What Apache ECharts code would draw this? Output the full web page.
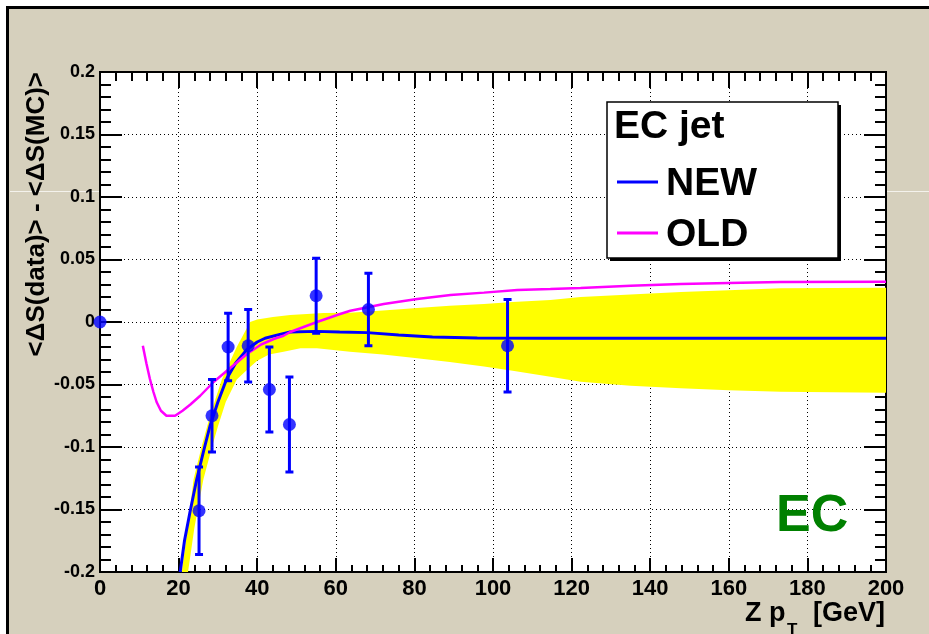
<!DOCTYPE html>
<html>
<head>
<meta charset="utf-8">
<script src="https://cdn.jsdelivr.net/npm/echarts@6/dist/echarts.min.js"></script>
<style>html,body{margin:0;padding:0;background:#fff;}#c{width:929px;height:634px;}</style>
</head>
<body>
<div id="c"></div>
<script>
// ---- data ----
const xTicks = [0, 20, 40, 60, 80, 100, 120, 140, 160, 180, 200];
const yTicks = [-0.2, -0.15, -0.1, -0.05, 0, 0.05, 0.1, 0.15, 0.2];

// measured points (Z pT, <dS data> - <dS MC>, error)
const ptX   = [0, 25.2, 28.5, 32.6, 37.7, 43.1, 48.2, 55.0, 68.3, 103.7];
const ptY   = [0, -0.151, -0.075, -0.020, -0.019, -0.054, -0.082, 0.021, 0.010, -0.019];
const ptErr = [0, 0.035, 0.029, 0.027, 0.029, 0.034, 0.038, 0.030, 0.029, 0.037];

// NEW parametrisation
const newX = [20.4, 21.5, 22.9, 24.6, 26.3, 28, 30, 32.3, 34.5, 37.4, 40, 42, 45, 48.4, 55, 61, 68, 76, 84.6, 96, 113, 200];
const newY = [-0.2, -0.175, -0.152, -0.126, -0.104, -0.083, -0.064, -0.045, -0.033, -0.022, -0.016, -0.013, -0.0105, -0.008, -0.0075, -0.008, -0.0085, -0.0104, -0.012, -0.0128, -0.013, -0.013];

// OLD parametrisation
const oldX = [10.9, 11.8, 12.7, 13.6, 14.4, 15.5, 16.9, 19.1, 21, 23, 25.5, 28.9, 32.3, 37.4, 41, 44.2, 46.7, 48.4, 55.2, 61.1, 63.7, 72.2, 80.7, 89.2, 97.7, 106.2, 114.6, 122.3, 135, 147.8, 160, 173.2, 200];
const oldY = [-0.019, -0.033, -0.0456, -0.056, -0.064, -0.071, -0.075, -0.075, -0.071, -0.066, -0.059, -0.048, -0.039, -0.0256, -0.018, -0.0136, -0.011, -0.008, 0.0, 0.0064, 0.009, 0.0144, 0.0184, 0.0216, 0.0235, 0.0256, 0.0264, 0.0272, 0.029, 0.0304, 0.0312, 0.032, 0.0322];

// uncertainty band of NEW (upper and lower edges)
const bandUpX = [20.8, 22.5, 23.8, 26, 28, 31, 34.8, 38.2, 40, 44, 48.4, 56.9, 63.6, 72, 80.7, 89, 97.7, 105, 114.6, 122.3, 135, 147.8, 160, 173.2, 200];
const bandUpY = [-0.2, -0.16, -0.126, -0.098, -0.075, -0.046, -0.02, 0.0, 0.002, 0.004, 0.0056, 0.0072, 0.0075, 0.0093, 0.0112, 0.013, 0.0144, 0.016, 0.0176, 0.020, 0.022, 0.024, 0.0255, 0.027, 0.0274];
const bandLoX = [22.4, 24, 26.3, 28.5, 30, 32, 34.8, 38.2, 40, 43, 46.7, 51, 55.2, 63.6, 72, 80.7, 89, 97.7, 105, 114.6, 122.3, 135, 147.8, 160, 173.2, 200];
const bandLoY = [-0.2, -0.165, -0.126, -0.1, -0.0836, -0.064, -0.046, -0.036, -0.031, -0.026, -0.0237, -0.021, -0.021, -0.0237, -0.026, -0.029, -0.032, -0.0355, -0.039, -0.0437, -0.0477, -0.051, -0.053, -0.0545, -0.0557, -0.0565];

const seriesNames = ['NEW', 'OLD'];
const legendTitle = 'EC jet';
const regionLabel = 'EC';

// ---- build ----
const zip = (a, b) => a.map((v, i) => [v, b[i]]);
const F = 'Liberation Sans, Arial, sans-serif';

const chart = echarts.init(document.getElementById('c'), null, {renderer: 'canvas'});

const tickCommon = (len, mlen) => ({
  z: 1,
  axisLine: {show: true, onZero: false, lineStyle: {color: '#000', width: 2}},
  axisTick: {show: true, inside: true, length: len, lineStyle: {color: '#000', width: 2}},
  minorTick: {show: true, splitNumber: 5, length: mlen, lineStyle: {color: '#000', width: 2}},
});

const option = {
  backgroundColor: '#ffffff',
  animation: false,
  grid: {left: 100, top: 72, width: 786, height: 500, show: true, backgroundColor: '#ffffff', borderColor: '#000', borderWidth: 2, z: 0},
  xAxis: [
    Object.assign({type: 'value', min: xTicks[0], max: xTicks[xTicks.length - 1], interval: 20, position: 'bottom',
      axisLabel: {show: true, color: '#000', fontFamily: F, fontWeight: 'bold', fontSize: 22, margin: 6},
      splitLine: {show: true, lineStyle: {color: '#000', width: 1, type: [1, 3]}}}, tickCommon(14, 7)),
    Object.assign({type: 'value', min: xTicks[0], max: xTicks[xTicks.length - 1], interval: 20, position: 'top',
      axisLabel: {show: false}, splitLine: {show: false}}, tickCommon(16, 9))
  ],
  yAxis: [
    Object.assign({type: 'value', min: yTicks[0], max: yTicks[yTicks.length - 1], interval: 0.05, position: 'left',
      axisLabel: {show: true, color: '#000', fontFamily: F, fontWeight: 'bold', fontSize: 18, margin: 5,
        formatter: v => String(parseFloat(v.toFixed(2)))},
      splitLine: {show: true, lineStyle: {color: '#000', width: 1, type: [1, 3]}}}, tickCommon(22, 11)),
    Object.assign({type: 'value', min: yTicks[0], max: yTicks[yTicks.length - 1], interval: 0.05, position: 'right',
      axisLabel: {show: false}, splitLine: {show: false}}, tickCommon(22, 11))
  ],
  series: [
    {
      type: 'custom', name: 'band', coordinateSystem: 'cartesian2d', xAxisIndex: 0, yAxisIndex: 0,
      clip: true, silent: true, z: 2,
      data: [[100, 0]],
      renderItem: function (params, api) {
        const pts = [];
        for (let i = 0; i < bandUpX.length; i++) pts.push(api.coord([bandUpX[i], bandUpY[i]]));
        for (let i = bandLoX.length - 1; i >= 0; i--) pts.push(api.coord([bandLoX[i], bandLoY[i]]));
        return {type: 'polygon', shape: {points: pts}, style: {fill: '#ffff00', stroke: null}};
      }
    },
    {
      type: 'line', name: seriesNames[0], data: zip(newX, newY), symbol: 'none', clip: true, z: 3,
      lineStyle: {color: '#0000ff', width: 3}
    },
    {
      type: 'line', name: seriesNames[1], data: zip(oldX, oldY), symbol: 'none', clip: true, z: 4,
      lineStyle: {color: '#ff00ff', width: 2.5}
    },
    {
      type: 'custom', name: 'errors', coordinateSystem: 'cartesian2d', xAxisIndex: 0, yAxisIndex: 0, z: 5,
      data: ptX.map((x, i) => [x, ptY[i], ptErr[i]]),
      encode: {x: 0, y: 1},
      renderItem: function (params, api) {
        const x = api.value(0), y = api.value(1), e = api.value(2);
        if (!e) return null;
        const top = api.coord([x, y + e]);
        const bot = api.coord([x, y - e]);
        const st = {stroke: '#0000ff', lineWidth: 3};
        return {type: 'group', children: [
          {type: 'line', shape: {x1: top[0], y1: top[1], x2: bot[0], y2: bot[1]}, style: st},
          {type: 'line', shape: {x1: top[0] - 4, y1: top[1], x2: top[0] + 4, y2: top[1]}, style: st},
          {type: 'line', shape: {x1: bot[0] - 4, y1: bot[1], x2: bot[0] + 4, y2: bot[1]}, style: st}
        ]};
      }
    },
    {
      type: 'scatter', name: 'data', data: zip(ptX, ptY), symbol: 'circle', symbolSize: 13, clip: false, z: 6,
      itemStyle: {color: '#0000ff'}
    }
  ],
  graphic: [
    {type: 'rect', z: -100, silent: true, shape: {x: 7.5, y: 7.5, width: 940, height: 640}, style: {fill: '#d6d0bd', stroke: '#000', lineWidth: 3}},
    {type: 'line', z: -99, silent: true, shape: {x1: 10, y1: 191.5, x2: 99, y2: 191.5}, style: {stroke: '#f4f2ec', lineWidth: 1}},
    {type: 'line', z: -99, silent: true, shape: {x1: 887, y1: 191.5, x2: 929, y2: 191.5}, style: {stroke: '#f4f2ec', lineWidth: 1}},
    // legend box
    {type: 'rect', z: 50, silent: true, shape: {x: 610, y: 105, width: 231, height: 156}, style: {fill: '#000'}},
    {type: 'rect', z: 51, silent: true, shape: {x: 607, y: 102, width: 231, height: 156}, style: {fill: '#fff', stroke: '#000', lineWidth: 1.5}},
    {type: 'text', z: 52, silent: true, x: 614, y: 127, style: {text: legendTitle, fill: '#000', font: 'bold 39px ' + F, textAlign: 'left', textVerticalAlign: 'middle'}},
    {type: 'line', z: 52, silent: true, shape: {x1: 617, y1: 182, x2: 658, y2: 182}, style: {stroke: '#0000ff', lineWidth: 3}},
    {type: 'text', z: 52, silent: true, x: 666, y: 184, style: {text: seriesNames[0], fill: '#000', font: 'bold 39px ' + F, textAlign: 'left', textVerticalAlign: 'middle'}},
    {type: 'line', z: 52, silent: true, shape: {x1: 617, y1: 233, x2: 658, y2: 233}, style: {stroke: '#ff00ff', lineWidth: 3}},
    {type: 'text', z: 52, silent: true, x: 666, y: 235, style: {text: seriesNames[1], fill: '#000', font: 'bold 39px ' + F, textAlign: 'left', textVerticalAlign: 'middle'}},
    // region label
    {type: 'text', z: 52, silent: true, x: 776, y: 517, style: {text: regionLabel, fill: '#008000', font: 'bold 52px ' + F, textAlign: 'left', textVerticalAlign: 'middle'}},
    // axis titles
    {type: 'text', z: 52, silent: true, x: 37, y: 72, rotation: Math.PI / 2,
      style: {text: '<ΔS(data)> - <ΔS(MC)>', fill: '#000', font: 'bold 26px ' + F, textAlign: 'right', textVerticalAlign: 'middle'}},
    {type: 'text', z: 52, silent: true, x: 745, y: 614, style: {text: 'Z p', fill: '#000', font: 'bold 27px ' + F, textAlign: 'left', textVerticalAlign: 'middle'}},
    {type: 'text', z: 52, silent: true, x: 787, y: 630, style: {text: 'T', fill: '#000', font: 'bold 17px ' + F, textAlign: 'left', textVerticalAlign: 'middle'}},
    {type: 'text', z: 52, silent: true, x: 885, y: 614, style: {text: '[GeV]', fill: '#000', font: 'bold 27px ' + F, textAlign: 'right', textVerticalAlign: 'middle'}}
  ]
};
chart.setOption(option);
</script>
</body>
</html>
